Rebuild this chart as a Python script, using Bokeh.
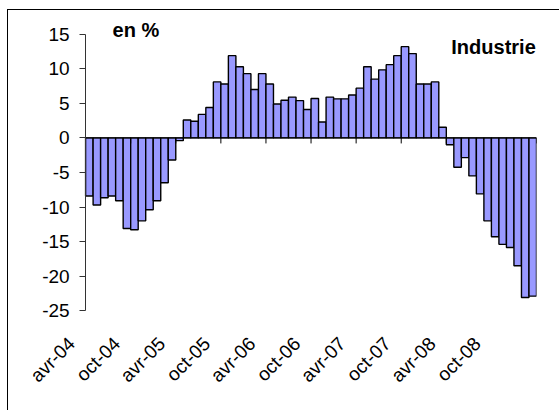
import math
from bokeh.plotting import figure
from bokeh.models import Range1d, FixedTicker, Label, ColumnDataSource
from bokeh.embed import file_html
from bokeh.resources import INLINE

# --- data ---
tick_labels = ["avr-04", "oct-04", "avr-05", "oct-05", "avr-06",
               "oct-06", "avr-07", "oct-07", "avr-08", "oct-08"]
label_step = 6
values = [
    -8.4, -9.7, -8.65, -8.4, -9.1, -13.1, -13.3, -12.0, -10.4, -9.1,
    -6.5, -3.2, -0.4, 2.6, 2.4, 3.4, 4.4, 8.1, 7.8, 11.9,
    10.3, 9.3, 7.0, 9.3, 7.8, 4.9, 5.45, 5.9, 5.4, 4.1,
    5.7, 2.3, 5.9, 5.65, 5.65, 6.2, 7.2, 10.3, 8.5, 9.85,
    10.6, 11.9, 13.2, 12.2, 7.8, 7.8, 8.1, 1.55, -1.0, -4.25,
    -2.85, -5.5, -8.1, -12.0, -14.3, -15.4, -15.85, -18.5, -23.1, -22.9,
]
y_ticks = [-25, -20, -15, -10, -5, 0, 5, 10, 15]

FONT = "Liberation Sans"
n = len(values)
src = ColumnDataSource(dict(x=[i + 0.5 for i in range(n)], top=values))

# frame: ~7.52 px per category, ~6.9 px per unit; extra room left of the
# y axis for its labels and the first rotated label, above 15 for "en %",
# and below -25 so that its label is not clipped
x_pad = 6
p = figure(frame_width=496, frame_height=311,
           min_border_left=40, min_border_top=13,
           min_border_right=23, min_border_bottom=86,
           x_range=Range1d(-x_pad, n), y_range=Range1d(-27, 18),
           output_backend="svg", toolbar_location=None)
p.outline_line_color = None
p.xgrid.visible = False
p.ygrid.visible = False
p.background_fill_color = "white"
p.border_fill_color = None
p.styles = {
    "background": ("linear-gradient(#000,#000) 7px 9px / 1px 100% no-repeat, "
                   "linear-gradient(#000,#000) 7px 9px / 100% 1px no-repeat, white"),
}

p.vbar(x="x", top="top", bottom=0, width=1, source=src,
       fill_color="#9999FF", line_color="black", line_width=1.4)

# zero axis line and tick marks between categories
p.segment(x0=[0], y0=[0], x1=[n], y1=[0], line_color="black", line_width=1)
bounds = list(range(label_step, n + 1, label_step))
p.segment(x0=bounds, y0=[0] * len(bounds), x1=bounds, y1=[-0.8] * len(bounds),
          line_color="black", line_width=1)

# y axis, drawn at the first category edge
ya = p.yaxis[0]
ya.fixed_location = 0
ya.ticker = FixedTicker(ticks=y_ticks)
ya.bounds = (y_ticks[0], y_ticks[-1])
ya.major_label_overrides = {t: str(t) for t in y_ticks}
ya.axis_line_color = "#333333"
ya.major_tick_line_color = "#333333"
ya.major_tick_out = 6
ya.major_tick_in = 0
ya.minor_tick_line_color = None
ya.major_label_standoff = 10
ya.major_label_text_font = FONT
ya.major_label_text_font_size = "19px"
ya.major_label_text_color = "black"

# x axis (labels only); Excel anchors rotated labels left of the category centre
label_shift = 2.35
xa = p.xaxis[0]
pos = [i * label_step + 0.5 - label_shift for i in range(len(tick_labels))]
xa.ticker = FixedTicker(ticks=pos)
xa.major_label_overrides = {pp: lab for pp, lab in zip(pos, tick_labels)}
xa.major_label_orientation = math.pi / 4
xa.axis_line_color = None
xa.major_tick_line_color = None
xa.minor_tick_line_color = None
xa.major_label_standoff = 10
xa.major_label_text_font = FONT
xa.major_label_text_font_size = "19px"
xa.major_label_text_color = "black"

p.add_layout(Label(x=6.7, y=15.6, text="en %", text_align="center",
                   text_baseline="alphabetic", text_font=FONT,
                   text_font_size="20px", text_font_style="bold", text_color="black"))
p.add_layout(Label(x=59.9, y=13.1, text="Industrie", text_align="right",
                   text_baseline="alphabetic", text_font=FONT,
                   text_font_size="20px", text_font_style="bold", text_color="black"))

open("out.html", "w").write(file_html(p, INLINE))
